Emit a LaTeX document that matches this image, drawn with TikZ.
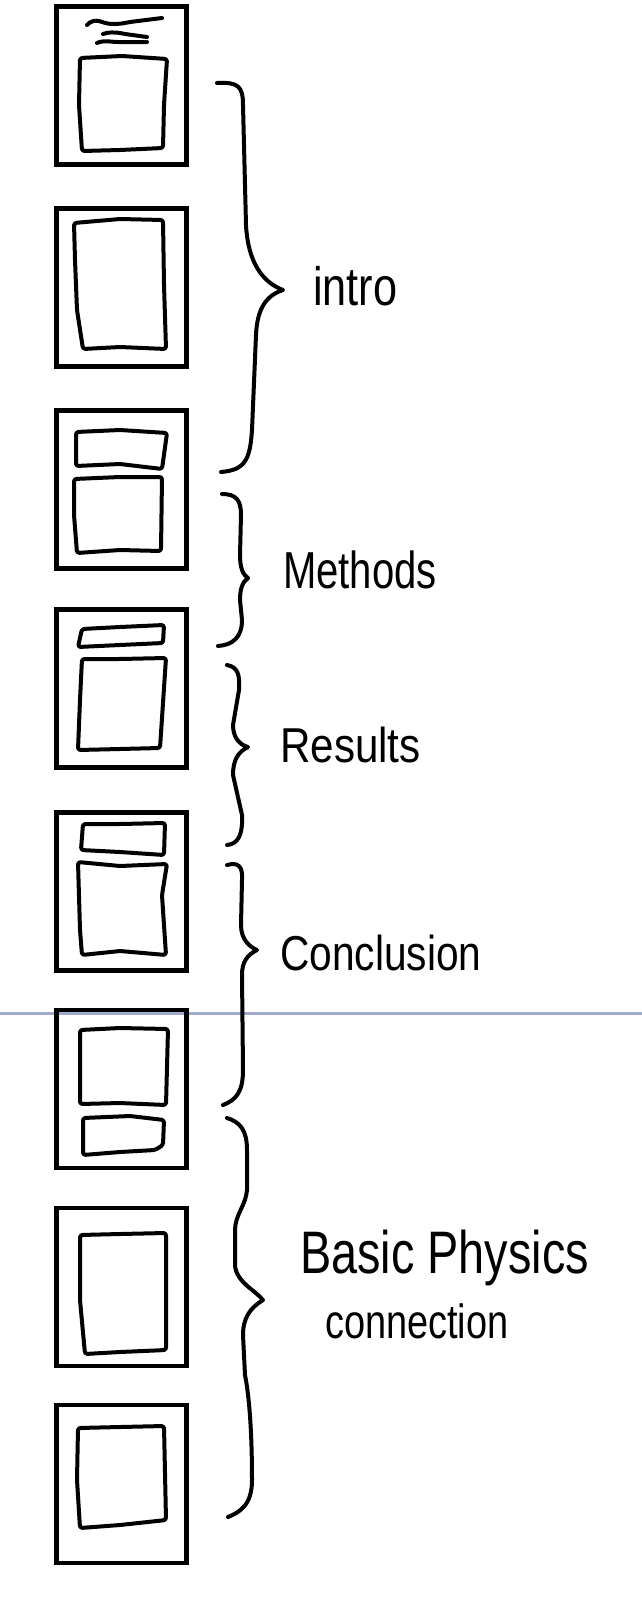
\documentclass[tikz,border=0pt]{standalone}
\usepackage{fontspec}
\usepackage{graphicx}
\setmainfont{Liberation Sans}
\definecolor{rulerblue}{RGB}{160,171,204}
\begin{document}
\begin{tikzpicture}[x=1pt,y=-1pt,
  slidebox/.style={draw, line width=4.4pt, minimum width=130pt, minimum height=158pt, inner sep=0pt},
  sketch/.style={line width=4pt, rounded corners=2.5pt, line join=round, line cap=round},
  brace/.style={line width=4pt, line cap=round, line join=round},
  label/.style={anchor=base west, inner sep=0pt}]
\useasboundingbox (0,0) rectangle (642,1614);
\fill[white] (0,0) rectangle (642,1614);
% ruler line
\draw[rulerblue, line width=3.2pt] (0,1013.8) -- (642,1013.8);
% slide frames
\node[slidebox] (s1) at (121.5,85.5) {};
\node[slidebox] (s2) at (121.5,287.5) {};
\node[slidebox] (s3) at (121.5,489.5) {};
\node[slidebox] (s4) at (121.5,688.5) {};
\node[slidebox] (s5) at (121.5,891.5) {};
\node[slidebox] (s6) at (121.5,1089) {};
\node[slidebox] (s7) at (121.5,1287) {};
\node[slidebox] (s8) at (121.5,1484) {};
% slide 1 content
\draw[sketch] (87,25) .. controls (90,21) and (96,20) .. (102,22) .. controls (112,25) and (120,24) .. (130,22) -- (162,18);
\draw[sketch] (103,34) .. controls (108,32) and (115,32) .. (125,34) -- (147,37);
\draw[sketch] (97,43) .. controls (101,41) and (106,41) .. (115,42) -- (147,42);
\draw[sketch] (80,58) -- (122,56) -- (167,59) -- (164,105) -- (163,148) -- (120,150) -- (82,151) -- (79,105) -- cycle;
% slide 2 content
\draw[sketch] (74,223) -- (120,219) -- (163,220) -- (164,285) -- (166,349) -- (120,347) -- (83,349) -- (77,310) -- (75,260) -- cycle;
% slide 3 content
\draw[sketch] (76,432) -- (120,430) -- (167,433) -- (162,469) -- (120,464) -- (76,466) -- cycle;
\draw[sketch] (74,479) -- (120,477) -- (162,477) -- (161,551) -- (120,550) -- (77,553) -- (74,515) -- cycle;
% slide 4 content
\draw[sketch] (82,629) -- (120,627) -- (164,625) -- (163,643) -- (120,645) -- (78,647) -- cycle;
\draw[sketch] (82,659) -- (120,659) -- (166,658) -- (160,748) -- (120,749) -- (78,750) -- (80,700) -- cycle;
% slide 5 content
\draw[sketch] (83,824) -- (120,824) -- (165,823) -- (164,855) -- (120,852) -- (81,850) -- cycle;
\draw[sketch] (78,862) -- (120,866) -- (167,864) -- (162,895) -- (166,955) -- (120,951) -- (82,955) -- (80,930) -- cycle;
% slide 6 content
\draw[sketch] (80,1030) -- (120,1028) -- (168,1029) -- (166,1105) -- (120,1103) -- (80,1104) -- (80,1060) -- cycle;
\draw[sketch] (83,1118) -- (130,1116) -- (164,1120) -- (163,1145) -- (155,1150) -- (120,1152) -- (83,1155) -- cycle;
% slide 7 content
\draw[sketch] (80,1235) -- (120,1234) -- (166,1233) -- (166,1350) -- (120,1352) -- (85,1354) -- (80,1300) -- cycle;
% slide 8 content
\draw[sketch] (78,1428) -- (120,1427) -- (164,1426) -- (166,1520) -- (120,1525) -- (80,1528) -- (77,1480) -- cycle;
% braces
\draw[brace] (217,83) .. controls (238,82) and (243,86) .. (243,105) -- (246,225) .. controls (248,262) and (262,282) .. (283,290) .. controls (264,296) and (257,312) .. (256,335) -- (252,430) .. controls (250,460) and (245,470) .. (221,472);
\draw[brace] (222,494) .. controls (236,494) and (241,500) .. (241,515) -- (240,555) .. controls (240,568) and (243,575) .. (248,578) .. controls (242,582) and (240,590) .. (240,600) -- (242,620) .. controls (242,638) and (232,645) .. (218,646);
\draw[brace] (227,665) .. controls (238,667) and (240,675) .. (239,690) -- (233,725) .. controls (233,738) and (240,745) .. (248,747) .. controls (238,752) and (233,760) .. (233,775) -- (242,815) .. controls (243,835) and (238,844) .. (227,845);
\draw[brace] (227,865) .. controls (238,862) and (243,866) .. (242,880) -- (241,925) .. controls (241,940) and (250,947) .. (257,950) .. controls (247,955) and (242,962) .. (242,975) -- (243,1070) .. controls (243,1092) and (236,1100) .. (223,1105);
\draw[brace] (227,1118) .. controls (240,1122) and (247,1130) .. (247,1150) -- (247,1190) .. controls (246,1205) and (235,1215) .. (235,1230) -- (235,1265) .. controls (236,1282) and (255,1290) .. (263,1300) .. controls (250,1308) and (243,1318) .. (243,1335) -- (245,1375) .. controls (250,1400) and (252,1440) .. (252,1480) .. controls (252,1505) and (240,1512) .. (228,1517);
% labels
\node[label] (lintro) at (313,305) {\fontsize{54}{60}\selectfont\scalebox{0.8}[1]{intro}};
\node[label] (lmethods) at (283,588) {\fontsize{52}{58}\selectfont\scalebox{0.77}[1]{Methods}};
\node[label] (lresults) at (280,762) {\fontsize{49}{55}\selectfont\scalebox{0.86}[1]{Results}};
\node[label] (lconcl) at (280,970) {\fontsize{49}{55}\selectfont\scalebox{0.83}[1]{Conclusion}};
\node[label] (lbasic) at (300,1273) {\fontsize{60}{66}\selectfont\scalebox{0.78}[1]{Basic Physics}};
\node[label] (lconn) at (325,1338) {\fontsize{48}{54}\selectfont\scalebox{0.79}[1]{connection}};
\end{tikzpicture}
\end{document}
